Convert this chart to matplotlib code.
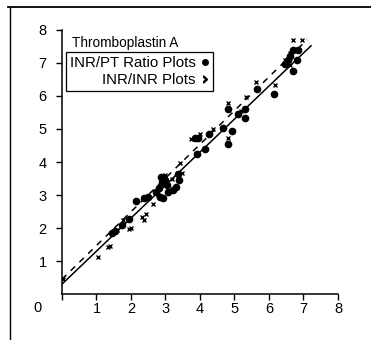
import matplotlib
matplotlib.use("Agg")
import matplotlib.pyplot as plt
from matplotlib.lines import Line2D

plt.rcParams['font.family'] = ['Liberation Sans', 'DejaVu Sans']

# INR/PT ratio plots (filled circles)
pt_x = [1.45, 1.55, 1.73, 1.95, 2.14, 2.38, 2.5, 2.72, 2.82, 2.84, 2.9, 2.94, 2.99, 3.03,
        3.08, 2.86, 2.92, 3.23, 3.3, 3.4, 3.37, 3.85, 3.95, 3.9, 4.14, 4.27, 4.66, 4.92,
        4.8, 4.8, 5.11, 5.3, 5.3, 5.64, 6.14, 6.47, 6.55, 6.69, 6.8, 6.7, 6.85, 6.62]
pt_y = [1.85, 1.91, 2.08, 2.27, 2.83, 2.92, 2.93, 3.1, 3.2, 2.95, 3.4, 2.9, 3.46, 3.3,
        3.1, 3.55, 3.5, 3.15, 3.25, 3.45, 3.63, 4.73, 4.73, 4.24, 4.4, 4.86, 5.02, 4.94,
        4.56, 5.6, 5.45, 5.33, 5.6, 6.21, 6.06, 6.98, 7.1, 6.76, 7.08, 7.39, 7.39, 7.2]

# INR/INR plots (crosses)
inr_x = [0.04, 1.05, 1.34, 1.4, 1.6, 1.78, 1.93, 2.0, 2.33, 2.38, 2.45, 2.65, 2.79, 2.7,
         3.0, 3.2, 3.42, 3.47, 3.75, 4.0, 4.39, 4.8, 4.82, 5.2, 5.33, 5.62, 6.17, 6.47,
         6.6, 6.71, 6.95, 6.6]
inr_y = [0.45, 1.11, 1.42, 1.47, 1.93, 2.23, 1.98, 2.0, 2.34, 2.23, 2.44, 2.74, 3.0, 3.1,
         3.6, 3.5, 3.97, 3.66, 4.7, 4.84, 5.01, 5.8, 4.73, 5.55, 5.96, 6.42, 6.32, 7.08,
         7.29, 7.69, 7.69, 6.95]

# regression lines (end points)
solid_x = [0, 7.22]
solid_y = [0.3, 7.52]
dash_x = [0, 7.1]
dash_y = [0.45, 7.7]

fig = plt.figure(figsize=(3.71, 3.40), dpi=100)
ax = fig.add_axes([0.167, 0.135, 0.744, 0.777])

ax.plot(solid_x, solid_y, color='black', lw=1.1)
ax.plot(dash_x, dash_y, color='black', lw=1.1, ls=(0, (4, 4)))
ax.plot(pt_x, pt_y, 'o', color='black', ms=4.5, ls='none')
ax.plot(inr_x, inr_y, 'x', color='black', ms=3.4, mew=1.0, ls='none')

ax.set_xlim(0, 8)
ax.set_ylim(0, 8)
ax.set_xticks(range(0, 9))
ax.set_xticklabels([''] + [str(i) for i in range(1, 9)])
ax.set_yticks(range(1, 9))
ax.spines['top'].set_visible(False)
ax.spines['right'].set_visible(False)
ax.spines['left'].set_linewidth(1.1)
ax.spines['bottom'].set_linewidth(1.1)
ax.tick_params(direction='out', length=4, width=1, labelsize=10.5)
ax.tick_params(axis='x', pad=2)
ax.tick_params(axis='y', pad=7)
ax.text(-0.09, -0.025, '0', transform=ax.transAxes, fontsize=10.5, ha='center', va='top')

ax.text(0.28, 7.6, 'Thromboplastin A', fontsize=9.8, va='center')
handles = [Line2D([], [], marker='o', color='black', ms=4, ls='none'),
           Line2D([], [], marker='$›$', color='black', ms=5, ls='none')]
ax.legend(handles, ['INR/PT Ratio Plots', 'INR/INR Plots'], loc='upper left',
          bbox_to_anchor=(0.015, 0.915), markerfirst=False, fontsize=10.8,
          frameon=True, fancybox=False, edgecolor='black', framealpha=1,
          handlelength=0.6, handletextpad=0.3, borderpad=0.25, labelspacing=0.2,
          borderaxespad=0, alignment='right')
ax.get_legend().get_frame().set_linewidth(0.9)
for t in ax.get_legend().get_texts():
    t.set_ha('right')

# figure border (top and left only)
fig.add_artist(Line2D([0.022, 1.0], [0.979, 0.979], color='black', lw=1.3))
fig.add_artist(Line2D([0.027, 0.027], [0.0, 0.979], color='black', lw=1.0))

fig.savefig('out.png', dpi=100)
